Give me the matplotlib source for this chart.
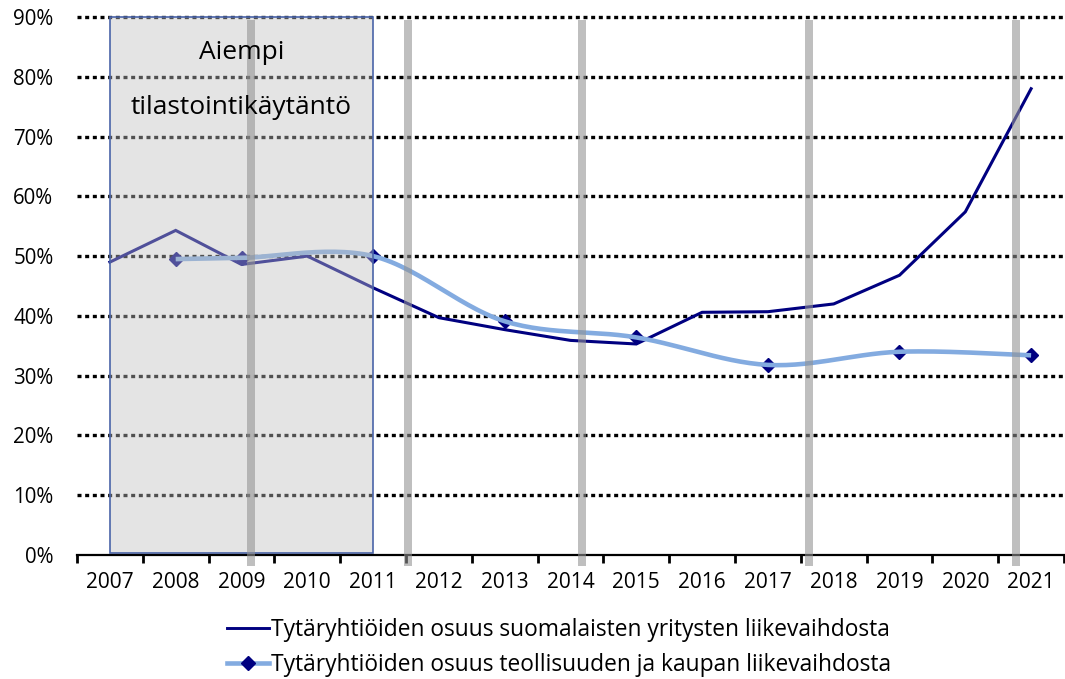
import numpy as np
import matplotlib
matplotlib.use('Agg')
import matplotlib.pyplot as plt
from matplotlib.patches import Rectangle
from matplotlib.lines import Line2D

# ---------------- data ----------------
years = [str(y) for y in range(2007, 2022)]
all_share = [49.0, 54.3, 48.6, 50.0, 44.7, 39.7, 37.7, 35.9, 35.3, 40.6,
             40.7, 42.0, 46.8, 57.4, 78.0]
ind_years = ['2008', '2009', '2011', '2013', '2015', '2017', '2019', '2021']
ind_share = [49.5, 49.7, 50.0, 39.1, 36.4, 31.8, 34.0, 33.4]
ytick_vals = [0, 10, 20, 30, 40, 50, 60, 70, 80, 90]
ytick_labels = [f'{v}%' for v in ytick_vals]
series_labels = ['Tytäryhtiöiden osuus suomalaisten yritysten liikevaihdosta',
                 'Tytäryhtiöiden osuus teollisuuden ja kaupan liikevaihdosta']
box_text = ['Aiempi', 'tilastointikäytäntö']
box_years = ('2007', '2011')

# decorative vertical grey bars (category-axis positions)
bar_x = [2.14, 4.53, 7.17, 10.62, 13.77]

FONT = 'Open Sans'
plt.rcParams['font.family'] = [FONT, 'DejaVu Sans']

NAVY = '#000080'
LIGHT = '#83ABE0'


def smooth(x, y, n=30):
    x = np.asarray(x, float)
    y = np.asarray(y, float)
    P = np.column_stack([x, y])
    out = []
    t = np.linspace(0, 1, n)[:, None]
    m = len(P)
    for i in range(m - 1):
        p0 = P[max(i - 1, 0)]
        p1 = P[i]
        p2 = P[i + 1]
        p3 = P[min(i + 2, m - 1)]
        c1 = p1 + (p2 - p0) / 6.0
        c2 = p2 - (p3 - p1) / 6.0
        B = ((1 - t) ** 3) * p1 + 3 * ((1 - t) ** 2) * t * c1 + \
            3 * (1 - t) * t ** 2 * c2 + t ** 3 * p2
        out.append(B if i == 0 else B[1:])
    B = np.vstack(out)
    return B[:, 0], B[:, 1]


W, H = 1065, 679
fig = plt.figure(figsize=(W / 100, H / 100), dpi=100)
ax = fig.add_axes([77 / W, 1 - 555 / H, (1064 - 77) / W, (555 - 17) / H])

x_all = np.arange(len(years))
x_ind = np.array([years.index(y) for y in ind_years])

ax.set_xlim(-0.5, len(years) - 0.5)
ax.set_ylim(0, 90)

# gridlines (dotted)
for v in ytick_vals[1:]:
    ax.axhline(v, color='black', lw=2.4, linestyle=(0, (1.2, 1.1)),
               dash_capstyle='butt', zorder=1, clip_on=False)

# dark line
ax.plot(x_all, all_share, color=NAVY, lw=2.2, zorder=3, solid_joinstyle='miter')

# light smoothed line with markers
sx, sy = smooth(x_ind, ind_share)
ax.plot(x_ind, ind_share, linestyle='none', marker='D', markersize=7.5,
        color=NAVY, zorder=2.5)
ax.plot(sx, sy, color=LIGHT, lw=3.3, zorder=3.2, solid_capstyle='butt')

# box for earlier practice
bx0, bx1 = years.index(box_years[0]), years.index(box_years[1])
ax.add_patch(Rectangle((bx0, 0.3), bx1 - bx0, 89.7, facecolor='#bfbfbf',
                       alpha=0.42, edgecolor='none', zorder=4, clip_on=False))
ax.add_patch(Rectangle((bx0, 0.3), bx1 - bx0, 89.7, facecolor='none',
                       edgecolor='#4A64A8', lw=1.2, zorder=4.1, clip_on=False))
ax.text((bx0 + bx1) / 2, 84.1, box_text[0], ha='center', va='center',
        fontsize=19, color='black', zorder=6)
ax.text((bx0 + bx1) / 2, 74.9, box_text[1], ha='center', va='center',
        fontsize=19, color='black', zorder=6)

# grey vertical bars
for bx in bar_x:
    ax.add_patch(Rectangle((bx - 0.063, -1.84), 0.126, 91.4, facecolor='#929292',
                           alpha=0.58, edgecolor='none', zorder=5, clip_on=False))

# axes styling
for s in ['left', 'right', 'top']:
    ax.spines[s].set_visible(False)
ax.spines['bottom'].set_linewidth(1.6)
ax.spines['bottom'].set_color('black')
ax.spines['bottom'].set_zorder(4.5)

ax.set_yticks(ytick_vals)
ax.set_yticklabels(ytick_labels, fontsize=14.8)
ax.tick_params(axis='y', length=0, pad=17)

ax.set_xticks(np.arange(-0.5, len(years), 1.0))
ax.set_xticklabels([])
ax.tick_params(axis='x', which='major', length=6, width=2.0, direction='out',
               color='black')
ax.set_xticks(x_all, minor=True)
ax.set_xticklabels(years, minor=True, fontsize=15)
ax.tick_params(axis='x', which='minor', length=0, pad=12)

# legend
handles = [Line2D([], [], color=NAVY, lw=2.1),
           Line2D([], [], color=LIGHT, lw=3.3, marker='D', markersize=7.5,
                  markerfacecolor=NAVY, markeredgecolor=NAVY)]
fig.legend(handles, series_labels, loc='center',
           bbox_to_anchor=(559 / W, 1 - 647.5 / H), frameon=False, fontsize=16.4,
           handlelength=1.85, handletextpad=0.1, labelspacing=0.45,
           borderpad=0, borderaxespad=0)

fig.savefig('out.png', dpi=100)
